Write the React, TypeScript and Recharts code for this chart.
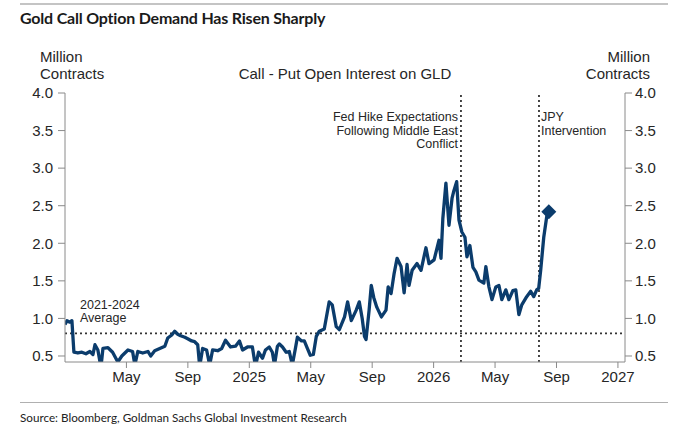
import { ComposedChart, Line, XAxis, YAxis, ReferenceLine } from 'recharts';

// months since 1 Jan 2024
const months = [
  0, 0.13, 0.32, 0.45, 0.58, 0.84, 1.1, 1.36, 1.62, 1.82, 1.95, 2.14, 2.34, 2.47, 2.8, 3.1, 3.44, 3.7,
  4.1, 4.4, 4.55, 4.74, 5.06, 5.4, 5.58, 5.84, 6.17, 6.5, 6.69, 6.95, 7.14, 7.34, 7.53, 7.8, 7.99,
  8.25, 8.44, 8.64, 8.77, 8.96, 9.22, 9.42, 9.61, 9.94, 10.2, 10.45, 10.78, 11.1, 11.36, 11.56, 11.88,
  12.2, 12.4, 12.6, 12.86, 13.05, 13.3, 13.5, 13.64, 13.83, 13.96, 14.16, 14.4, 14.6, 14.8, 15.0,
  15.13, 15.4, 15.58, 15.78, 15.97, 16.17, 16.36, 16.56, 16.88, 17.2, 17.4, 17.66, 17.86, 18.2, 18.4,
  18.64, 18.96, 19.16, 19.35, 19.5, 19.6, 19.8, 19.94, 20.1, 20.3, 20.6, 20.9, 21.04, 21.23, 21.43,
  21.62, 21.88, 22.08, 22.27, 22.4, 22.6, 22.92, 23.18, 23.5, 23.7, 24.03, 24.35, 24.48, 24.6, 24.8,
  25.0, 25.2, 25.32, 25.5, 25.65, 25.84, 26.04, 26.17, 26.36, 26.56, 26.75, 26.95, 27.27, 27.4, 27.6,
  27.8, 28.05, 28.25, 28.44, 28.7, 28.9, 29.16, 29.35, 29.55, 29.74, 30.06, 30.32, 30.52, 30.71,
  30.84, 30.97, 31.17, 31.36, 31.5,
];

// call - put open interest on GLD, million contracts
const callPut = [
  0.92, 0.97, 0.95, 0.97, 0.55, 0.54, 0.55, 0.53, 0.56, 0.52, 0.65, 0.58, 0.35, 0.6, 0.61, 0.55, 0.42, 0.5,
  0.58, 0.56, 0.38, 0.56, 0.54, 0.56, 0.5, 0.57, 0.6, 0.63, 0.74, 0.78, 0.83, 0.79, 0.77, 0.75, 0.73,
  0.7, 0.69, 0.65, 0.36, 0.6, 0.58, 0.38, 0.58, 0.57, 0.6, 0.71, 0.62, 0.63, 0.7, 0.58, 0.62,
  0.62, 0.36, 0.55, 0.47, 0.58, 0.62, 0.55, 0.38, 0.63, 0.66, 0.62, 0.55, 0.56, 0.38, 0.6,
  0.75, 0.7, 0.7, 0.6, 0.51, 0.52, 0.76, 0.83, 0.86, 1.22, 1.18, 0.89, 0.85, 1.02, 1.22,
  0.97, 1.11, 1.22, 1.0, 0.76, 0.72, 1.11, 1.44, 1.28, 1.15, 1.02, 1.11, 1.42, 1.33, 1.6,
  1.8, 1.69, 1.34, 1.72, 1.44, 1.64, 1.73, 1.64, 1.94, 1.73, 1.78, 2.04, 1.8, 2.33, 2.8,
  2.24, 2.6, 2.7, 2.82, 2.31, 2.15, 2.08, 1.82, 1.97, 1.68, 1.62, 1.51, 1.47, 1.69, 1.42,
  1.25, 1.42, 1.44, 1.25, 1.38, 1.25, 1.37, 1.38, 1.05, 1.18, 1.29, 1.36, 1.29, 1.38,
  1.4, 1.64, 2.08, 2.35, 2.42,
];

const avg2021to2024 = 0.8;
const fedHike = 25.78;
const jpyIntervention = 30.86;

const xTicks = [4, 8, 12, 16, 20, 24, 28, 32, 36];
const xTickLabels = ['May', 'Sep', '2025', 'May', 'Sep', '2026', 'May', 'Sep', '2027'];
const yTicks = [0.5, 1.0, 1.5, 2.0, 2.5, 3.0, 3.5, 4.0];

const data = months.map((m, i) => ({ m, v: callPut[i] }));

const NAVY = '#0b3c6c';
const AXIS = '#8a8a8a';
const TXT = '#262626';
const SANS = '"Liberation Sans", Arial, sans-serif';

const tickStyle = { fontSize: 15, fill: TXT, fontFamily: SANS };

const EndDiamond = (props: any) => {
  const { cx, cy, index } = props;
  if (index !== data.length - 1) return <g key={index} />;
  const r = 7.5;
  return (
    <path
      key={index}
      d={`M${cx},${cy - r} L${cx + r},${cy} L${cx},${cy + r} L${cx - r},${cy} Z`}
      fill={NAVY}
    />
  );
};

const abs = (s: any) => ({ position: 'absolute' as const, whiteSpace: 'nowrap' as const, ...s });

export default function App() {
  return (
    <div style={abs({ left: 0, top: 0, width: 681, height: 426, background: '#fff', overflow: 'hidden' })}>
      <div style={abs({ left: 20, top: 3, width: 648, height: 2, background: '#c4c4c4' })} />
      <div style={abs({ left: 20, top: 8, fontFamily: 'Lato, sans-serif', fontWeight: 700, fontSize: 16, color: '#1a1a1a', letterSpacing: -0.2 })}>
        Gold Call Option Demand Has Risen Sharply
      </div>

      <div style={abs({ left: 40, top: 48, fontFamily: SANS, fontSize: 15, lineHeight: '17px', color: TXT })}>
        Million<br />Contracts
      </div>
      <div style={abs({ left: 560, width: 90, top: 48, textAlign: 'right', fontFamily: SANS, fontSize: 15, lineHeight: '17px', color: TXT })}>
        Million<br />Contracts
      </div>
      <div style={abs({ left: 200, width: 290, top: 65, textAlign: 'center', fontFamily: SANS, fontSize: 15, color: TXT })}>
        Call - Put Open Interest on GLD
      </div>

      <ComposedChart
        width={681}
        height={426}
        data={data}
        margin={{ top: 93, right: 11, left: 20, bottom: 34 }}
        style={{ position: 'absolute', left: 0, top: 0 }}
      >
        <XAxis
          dataKey="m"
          type="number"
          domain={[0, 36.46]}
          ticks={xTicks}
          tickFormatter={(v: number) => xTickLabels[xTicks.indexOf(v)] ?? ''}
          tick={tickStyle}
          tickSize={6}
          tickMargin={3}
          stroke={AXIS}
          height={30}
          allowDataOverflow
        />
        <YAxis
          yAxisId="left"
          domain={[0.42, 4.0]}
          ticks={yTicks}
          tickFormatter={(v: number) => v.toFixed(1)}
          tick={tickStyle}
          tickSize={7}
          tickMargin={5}
          stroke={AXIS}
          width={45}
          allowDataOverflow
        />
        <YAxis
          yAxisId="right"
          orientation="right"
          domain={[0.42, 4.0]}
          ticks={yTicks}
          tickFormatter={(v: number) => v.toFixed(1)}
          tick={tickStyle}
          tickSize={7}
          tickMargin={3}
          stroke={AXIS}
          width={45}
          allowDataOverflow
        />
        <ReferenceLine yAxisId="left" y={avg2021to2024} stroke="#333" strokeWidth={1.8} strokeDasharray="2 3" />
        <ReferenceLine yAxisId="left" x={fedHike} stroke="#333" strokeWidth={1.8} strokeDasharray="2 3" />
        <ReferenceLine yAxisId="left" x={jpyIntervention} stroke="#333" strokeWidth={1.8} strokeDasharray="2 3" />
        <Line
          yAxisId="left"
          dataKey="v"
          type="linear"
          stroke={NAVY}
          strokeWidth={3.3}
          strokeLinejoin="round"
          dot={EndDiamond}
          activeDot={false}
          isAnimationActive={false}
        />
      </ComposedChart>

      <div style={abs({ left: 300, width: 158, top: 111, textAlign: 'right', fontFamily: SANS, fontSize: 12.5, lineHeight: '13.5px', color: TXT })}>
        Fed Hike Expectations<br />Following Middle East<br />Conflict
      </div>
      <div style={abs({ left: 541, top: 111, fontFamily: SANS, fontSize: 12.5, lineHeight: '13.5px', color: TXT })}>
        JPY<br />Intervention
      </div>
      <div style={abs({ left: 80, top: 299, fontFamily: SANS, fontSize: 12.5, lineHeight: '13px', color: TXT })}>
        2021-2024<br />Average
      </div>

      <div style={abs({ left: 20, top: 402, width: 648, height: 1, background: '#b0b0b0' })} />
      <div style={abs({ left: 20, top: 410, fontFamily: 'Lato, sans-serif', fontSize: 11.7, color: '#222' })}>
        Source: Bloomberg, Goldman Sachs Global Investment Research
      </div>
    </div>
  );
}
